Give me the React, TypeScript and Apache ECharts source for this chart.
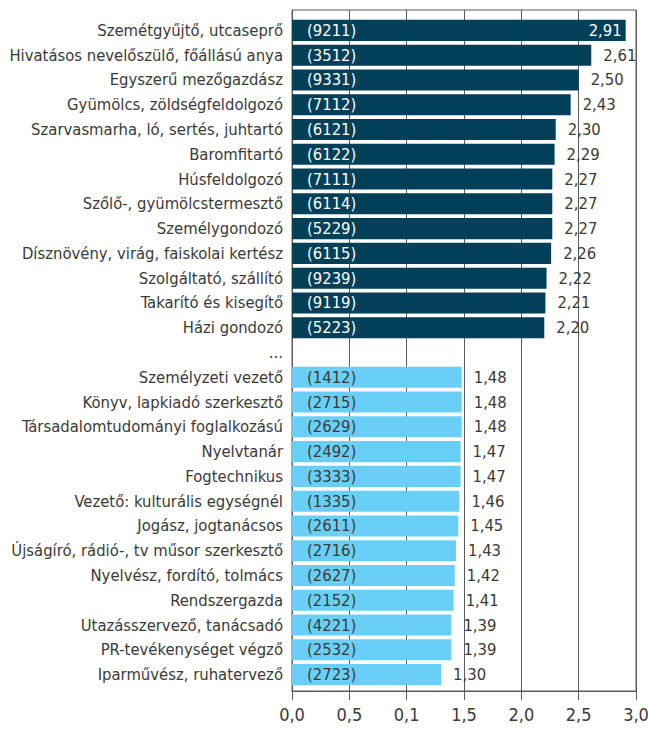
import React, { useEffect, useRef } from "react";
import * as echarts from "echarts";

const categories = [
  "Szemétgyűjtő, utcaseprő",
  "Hivatásos nevelőszülő, főállású anya",
  "Egyszerű mezőgazdász",
  "Gyümölcs, zöldségfeldolgozó",
  "Szarvasmarha, ló, sertés, juhtartó",
  "Baromfitartó",
  "Húsfeldolgozó",
  "Szőlő-, gyümölcstermesztő",
  "Személygondozó",
  "Dísznövény, virág, faiskolai kertész",
  "Szolgáltató, szállító",
  "Takarító és kisegítő",
  "Házi gondozó",
  "...",
  "Személyzeti vezető",
  "Könyv, lapkiadó szerkesztő",
  "Társadalomtudományi foglalkozású",
  "Nyelvtanár",
  "Fogtechnikus",
  "Vezető: kulturális egységnél",
  "Jogász, jogtanácsos",
  "Újságíró, rádió-, tv műsor szerkesztő",
  "Nyelvész, fordító, tolmács",
  "Rendszergazda",
  "Utazásszervező, tanácsadó",
  "PR-tevékenységet végző",
  "Iparművész, ruhatervező",
];

const codes = [
  "9211", "3512", "9331", "7112", "6121", "6122", "7111", "6114", "5229", "6115", "9239", "9119", "5223",
  "",
  "1412", "2715", "2629", "2492", "3333", "1335", "2611", "2716", "2627", "2152", "4221", "2532", "2723",
];

const values: (number | null)[] = [
  2.91, 2.61, 2.5, 2.43, 2.3, 2.29, 2.27, 2.27, 2.27, 2.26, 2.22, 2.21, 2.2,
  null,
  1.48, 1.48, 1.48, 1.47, 1.47, 1.46, 1.45, 1.43, 1.42, 1.41, 1.39, 1.39, 1.3,
];

// group: 0 = highest (dark), 1 = lowest (light)
const groups = [0, 0, 0, 0, 0, 0, 0, 0, 0, 0, 0, 0, 0, -1, 1, 1, 1, 1, 1, 1, 1, 1, 1, 1, 1, 1, 1];

const tickLabels = ["0,0", "0,5", "0,1", "1,5", "2,0", "2,5", "3,0"];

const DARK = "#023f58";
const LIGHT = "#6acff6";
const TEXT = "#3a3a3a";
const LINE = "#5a5a5a";
const FONT = "'DejaVu Sans Condensed', sans-serif";
const FS = 16.5;

const fmt = (v: number) => v.toFixed(2).replace(".", ",");

export default function App() {
  const ref = useRef<HTMLDivElement>(null);
  useEffect(() => {
    if (!ref.current) return;
    const chart = echarts.init(ref.current, undefined, { renderer: "svg" });
    const valueData = values.map((v, i) => {
      if (v === null) return { value: null };
      const inside = i === 0;
      return {
        value: v,
        itemStyle: { color: groups[i] === 0 ? DARK : LIGHT },
        label: inside
          ? { position: "insideRight", distance: 4, color: "#ffffff" }
          : { position: "right", distance: 12, color: TEXT },
      };
    });
    const codeData = values.map((v, i) => ({
      value: v,
      label: { color: groups[i] === 0 ? "#ffffff" : TEXT },
    }));
    chart.setOption({
      animation: false,
      textStyle: { fontFamily: FONT },
      grid: [
        { left: 292, right: 12, top: 10, bottom: 38, show: true, borderColor: LINE, borderWidth: 1, outerBoundsMode: "none", containLabel: false },
        { left: 292, right: 12, top: 18, height: 669, outerBoundsMode: "none", containLabel: false },
      ],
      xAxis: [
        {
          gridIndex: 0,
          type: "value",
          min: 0,
          max: 3,
          interval: 0.5,
          axisLine: { show: true, lineStyle: { color: LINE, width: 1 } },
          axisTick: { show: true, length: 9, lineStyle: { color: LINE } },
          splitLine: { show: true, lineStyle: { color: LINE, width: 1 } },
          axisLabel: {
            margin: 14,
            fontSize: 18,
            color: TEXT,
            fontFamily: FONT,
            formatter: (v: number) => tickLabels[Math.round(v / 0.5)] ?? "",
          },
        },
        { gridIndex: 1, type: "value", min: 0, max: 3, show: false },
      ],
      yAxis: [
        { gridIndex: 0, type: "value", min: 0, max: 1, show: false },
        {
          gridIndex: 1,
          type: "category",
          data: categories,
          inverse: true,
          axisLine: { show: false },
          axisTick: { show: false },
          axisLabel: { margin: 9, fontSize: FS, color: TEXT, fontFamily: FONT },
        },
      ],
      series: [
        {
          type: "bar",
          xAxisIndex: 1,
          yAxisIndex: 1,
          data: valueData,
          barCategoryGap: "15%",
          label: {
            show: true,
            fontSize: FS,
            fontFamily: FONT,
            formatter: (p: any) => (p.value == null ? "" : fmt(p.value)),
          },
          z: 3,
        },
        {
          type: "bar",
          xAxisIndex: 1,
          yAxisIndex: 1,
          data: codeData,
          barGap: "-100%",
          barCategoryGap: "15%",
          itemStyle: { color: "rgba(0,0,0,0)" },
          label: {
            show: true,
            position: "insideLeft",
            distance: 15,
            fontSize: FS,
            fontFamily: FONT,
            formatter: (p: any) => (codes[p.dataIndex] ? "(" + codes[p.dataIndex] + ")" : ""),
          },
          z: 4,
          silent: true,
        },
      ],
    });
    return () => chart.dispose();
  }, []);
  return (
    <div
      ref={ref}
      style={{ position: "fixed", left: 0, top: 0, width: 648, height: 729, background: "#ffffff" }}
    />
  );
}
